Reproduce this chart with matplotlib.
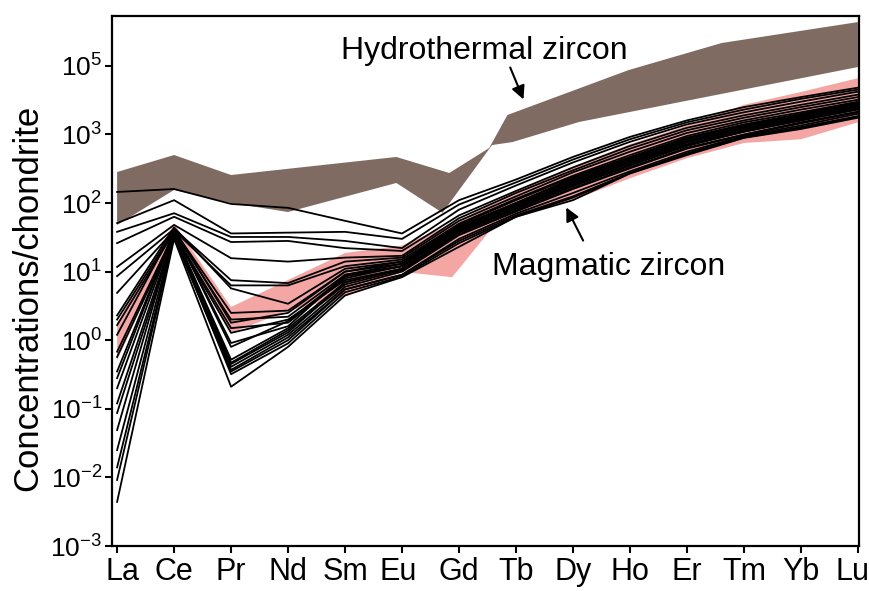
import numpy as np
import matplotlib
matplotlib.use("Agg")
import matplotlib.pyplot as plt
import matplotlib.transforms as mtransforms
from matplotlib import font_manager

plt.rcParams['font.family'] = ['Liberation Sans', 'DejaVu Sans']

# tick labels in the figure use a condensed face
try:
    font_manager.findfont('Liberation Sans Narrow', fallback_to_default=False)
    narrow = 'Liberation Sans Narrow'
    xt_size, yt_size = 25, 21
except ValueError:
    narrow = 'Liberation Sans'
    xt_size, yt_size = 22, 19
plt.rcParams['mathtext.fontset'] = 'custom'
plt.rcParams['mathtext.rm'] = narrow
plt.rcParams['mathtext.it'] = narrow

# REE elements (chondrite normalised)
elements = ['La', 'Ce', 'Pr', 'Nd', 'Sm', 'Eu', 'Gd', 'Tb', 'Dy', 'Ho', 'Er', 'Tm', 'Yb', 'Lu']

# hydrothermal zircon field (upper / lower edge)
hydro_top_x = [0, 1, 2, 4.9, 5.83, 6.53, 6.85, 8.98, 10.61, 13]
hydro_top_y = [283, 501, 256, 469, 274, 634, 1920, 8690, 21500, 43400]
hydro_bot_x = [0, 1, 2, 3, 4.9, 5.71, 6.58, 6.94, 8.11, 13]
hydro_bot_y = [47.8, 155, 100, 74, 196, 72, 700, 774, 1520, 9600]

# magmatic zircon field (upper / lower edge)
magma_top_x = [0, 1, 2, 4, 5, 6, 7, 8, 9, 10, 11, 12, 13]
magma_top_y = [1.78, 50, 3.05, 18.7, 24, 55, 150, 340, 720, 1350, 2700, 4150, 6600]
magma_bot_x = [0, 1, 2, 3, 4, 5, 5.88, 6.65, 8, 9, 10, 11, 12, 13]
magma_bot_y = [0.51, 33, 1.27, 2.7, 4.3, 9.9, 8.3, 51, 110, 230, 450, 750, 850, 1500]

# zircon analyses, La ... Lu
samples = [
    [145, 160, 97, 85, 55, 36, 110, 220, 470, 920, 1600, 2500, 3500, 4800],
    [51, 110, 36, 37, 38, 30, 95, 200, 430, 850, 1500, 2300, 3300, 4500],
    [38, 71, 32, 32, 28, 22, 80, 180, 390, 780, 1400, 2100, 3000, 4200],
    [26, 63, 27, 28, 22, 20, 66, 150, 330, 680, 1250, 1900, 2700, 3800],
    [11.7, 48, 15.7, 14, 16, 17, 60, 140, 300, 620, 1150, 1750, 2500, 3500],
    [8.6, 42, 7.5, 6.8, 14, 16, 55, 125, 280, 560, 1050, 1600, 2300, 3200],
    [4.9, 40, 6.3, 6.3, 12, 15, 50, 115, 250, 500, 950, 1500, 2100, 3000],
    [2.3, 44, 5.7, 3.4, 11, 14, 48, 110, 240, 470, 900, 1400, 2000, 2900],
    [2.0, 40, 2.5, 2.7, 10, 14, 45, 100, 220, 430, 830, 1300, 1900, 2700],
    [1.66, 38, 2.0, 2.2, 9, 13, 42, 95, 200, 400, 780, 1200, 1800, 2600],
    [1.2, 42, 1.8, 2.5, 10, 13, 46, 100, 230, 450, 870, 1350, 1950, 2800],
    [0.68, 36, 1.5, 1.8, 8, 12, 40, 90, 190, 380, 720, 1150, 1700, 2400],
    [0.57, 35, 1.28, 2.0, 7.5, 11, 38, 85, 180, 360, 680, 1100, 1600, 2300],
    [0.35, 39, 0.91, 1.6, 9, 12, 44, 95, 210, 420, 800, 1250, 1850, 2700],
    [0.28, 40, 0.80, 1.9, 8.5, 12, 40, 90, 195, 390, 760, 1200, 1750, 2500],
    [0.20, 38, 0.52, 1.5, 7, 11, 37, 82, 175, 350, 690, 1100, 1600, 2350],
    [0.12, 36, 0.47, 1.4, 6.5, 10.5, 35, 78, 165, 330, 640, 1000, 1500, 2150],
    [0.087, 34, 0.45, 1.3, 7, 11, 38, 84, 180, 355, 700, 1100, 1650, 2400],
    [0.049, 37, 0.41, 1.2, 6, 10, 34, 75, 160, 320, 620, 980, 1450, 2100],
    [0.025, 35, 0.37, 1.1, 5.5, 9, 30, 70, 140, 290, 560, 950, 1350, 2000],
    [0.014, 33, 0.32, 0.9, 5, 8.5, 26, 63, 120, 270, 520, 900, 1250, 1800],
    [0.0092, 32, 0.35, 1.0, 5.5, 9, 28, 66, 125, 275, 530, 910, 1280, 1850],
    [0.0044, 30, 0.21, 0.8, 4.5, 8.3, 23, 63, 110, 270, 500, 890, 1200, 1750],
]

ytick_vals = [1e-3, 1e-2, 1e-1, 1e0, 1e1, 1e2, 1e3, 1e4]
ytick_text = [r'$10^{-3}$', r'$10^{-2}$', r'$10^{-1}$', r'$10^{0}$',
              r'$10^{1}$', r'$10^{2}$', r'$10^{3}$', r'$10^{5}$']

fig = plt.figure(figsize=(8.7, 5.91), dpi=100)
ax = fig.add_axes([0.1287, 0.0761, 0.8587, 0.8968])
ax.set_yscale('log')

x = np.arange(len(elements))

# fields
ax.fill(magma_top_x + magma_bot_x[::-1], magma_top_y + magma_bot_y[::-1],
        color='#f3a6a4', lw=0, zorder=1)
ax.fill(hydro_top_x + hydro_bot_x[::-1], hydro_top_y + hydro_bot_y[::-1],
        color='#806b63', lw=0, zorder=2)

for s in samples:
    ax.plot(x, s, color='black', lw=1.3, zorder=3)

ax.set_xlim(-0.09, 13.02)
ax.set_ylim(1e-3, 5.32e4)

ax.set_xticks(x)
ax.set_xticklabels(elements, fontsize=xt_size, family=narrow)
ax.set_yticks(ytick_vals)
ax.set_yticklabels(ytick_text, fontsize=yt_size)
ax.minorticks_off()
ax.tick_params(axis='both', direction='out', length=5, width=1.5, color='black')
ax.tick_params(axis='x', pad=3)
ax.tick_params(axis='y', pad=2)
for sp in ax.spines.values():
    sp.set_linewidth(1.6)

# small shifts of some element labels, as in the figure
shifts = {'La': 4, 'Eu': -3, 'Lu': -4}
for lab in ax.get_xticklabels():
    d = shifts.get(lab.get_text(), 0)
    if d:
        off = mtransforms.ScaledTranslation(d / 72.0, 0, fig.dpi_scale_trans)
        lab.set_transform(lab.get_transform() + off)

ax.set_ylabel('Concentrations/chondrite', fontsize=25)
ax.yaxis.set_label_coords(-0.09, 0.468)

ax.text(6.44, 12560, 'Hydrothermal zircon', fontsize=23, ha='center', va='baseline')
ax.annotate('', xy=(7.15, 2970), xytext=(6.88, 10300),
            arrowprops=dict(arrowstyle='-|>', color='black', lw=1.5, mutation_scale=20))
ax.text(8.63, 8.9, 'Magmatic zircon', fontsize=23, ha='center', va='baseline')
ax.annotate('', xy=(7.86, 93.6), xytext=(8.20, 26.1),
            arrowprops=dict(arrowstyle='-|>', color='black', lw=1.5, mutation_scale=20))

fig.savefig('out.png', dpi=100)
